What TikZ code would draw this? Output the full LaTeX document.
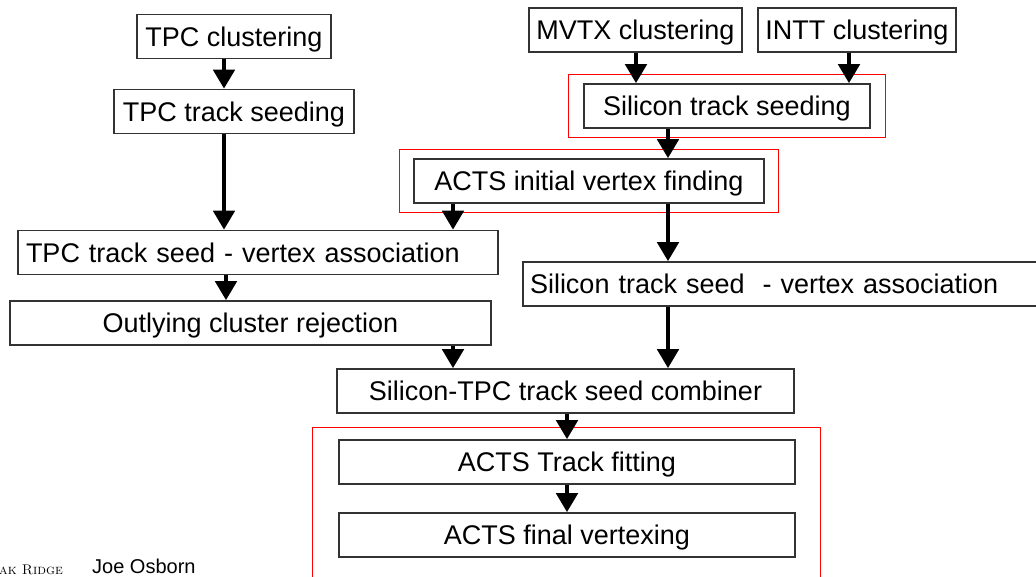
\documentclass[tikz,border=0pt]{standalone}
\usepackage{fontspec}
\newfontfamily\flowfont{Liberation Sans}
\usetikzlibrary{arrows.meta,fit}

\tikzset{
box/.style={rectangle, draw=black!80, line width=1.5pt, minimum height=44pt,
inner sep=0pt, text depth=0pt, font=\flowfont\fontsize{27}{32}\selectfont, text centered,},
hilite/.style={rectangle, draw=red, line width=1pt, inner xsep=15pt, inner ysep=8.5pt},
arr/.style={-{Triangle[length=19pt,width=21pt]}, line width=4.5pt}
}

\begin{document}
\begin{tikzpicture}
% 1px of the slide = 1pt, y measured from the bottom
\useasboundingbox (0, 0) rectangle (1036pt, 577pt);
	\draw (234pt, 540.5pt) node[box, minimum width=194pt] (tpcclus) {TPC clustering};
	\draw (234pt, 465.5pt) node[box, minimum width=240pt] (tpcseed) {TPC track seeding};
	\draw (635.5pt, 547pt) node[box, minimum width=213pt] (mvtx) {MVTX clustering};
	\draw (857pt, 547pt) node[box, minimum width=198pt] (intt) {INTT clustering};
	\draw (727pt, 471pt) node[box, minimum width=286pt] (siseed) {Silicon track seeding};
	\draw (589pt, 396pt) node[box, minimum width=350pt] (vtxfind) {ACTS initial vertex finding};
	\draw (258pt, 324.5pt) node[box, text width=464pt, inner xsep=8pt, align=left] (tpcassoc) {TPC track seed - vertex association};
	\draw (781.5pt, 293pt) node[box, text width=503pt, inner xsep=7pt, align=left] (siassoc) {Silicon track seed~ - vertex association};
	\draw (250.5pt, 254pt) node[box, minimum width=481pt] (outlying) {Outlying cluster rejection};
	\draw (565.5pt, 186pt) node[box, minimum width=457pt] (combiner) {Silicon-TPC track seed combiner};
	\draw (567pt, 115pt) node[box, minimum width=456pt] (fitting) {ACTS Track fitting};
	\draw (567pt, 42pt) node[box, minimum width=456pt] (finalvtx) {ACTS final vertexing};
% red frames
\node[hilite, fit=(siseed)] (siseedframe) {};
\node[hilite, inner xsep=14pt, fit=(vtxfind)] (vtxframe) {};
\draw[red, line width=1pt] ([xshift=-26pt, yshift=12pt]fitting.north west) coordinate (actsframe)
	rectangle ([xshift=25pt, yshift=-40pt]finalvtx.south east);
% arrow columns
\coordinate (colA) at (224pt, 0);
\coordinate (colAb) at (226pt, 0);
\coordinate (colB) at (453pt, 0);
\coordinate (colC) at (668pt, 0);
\coordinate (colD) at (636pt, 0);
\coordinate (colE) at (849pt, 0);
\coordinate (colF) at (567pt, 0);
\draw[arr] (tpcclus.south -| colA) -- (tpcseed.north -| colA);
\draw[arr] (tpcseed.south -| colA) -- (tpcassoc.north -| colA);
\draw[arr] (tpcassoc.south -| colAb) -- (outlying.north -| colAb);
\draw[arr] (mvtx.south -| colD) -- (siseed.north -| colD);
\draw[arr] (intt.south -| colE) -- (siseed.north -| colE);
\draw[arr] (siseed.south -| colC) -- (vtxfind.north -| colC);
\draw[arr] (vtxfind.south -| colB) -- (tpcassoc.north -| colB);
\draw[arr] (vtxfind.south -| colC) -- (siassoc.north -| colC);
\draw[arr] (outlying.south -| colB) -- (combiner.north -| colB);
\draw[arr] (siassoc.south -| colC) -- (combiner.north -| colC);
\draw[arr] (combiner.south -| colF) -- (fitting.north -| colF);
\draw[arr] (fitting.south -| colF) -- (finalvtx.north -| colF);
% footer
\draw (-1pt, 2pt) node[anchor=base west, inner sep=0pt, font=\fontsize{14}{14}\selectfont] (logo) {\textsc{ak Ridge}};
\draw (92pt, 3pt) node[anchor=base west, inner sep=0pt, font=\flowfont\fontsize{20}{20}\selectfont] (author) {Joe Osborn};
\end{tikzpicture}
\end{document}
